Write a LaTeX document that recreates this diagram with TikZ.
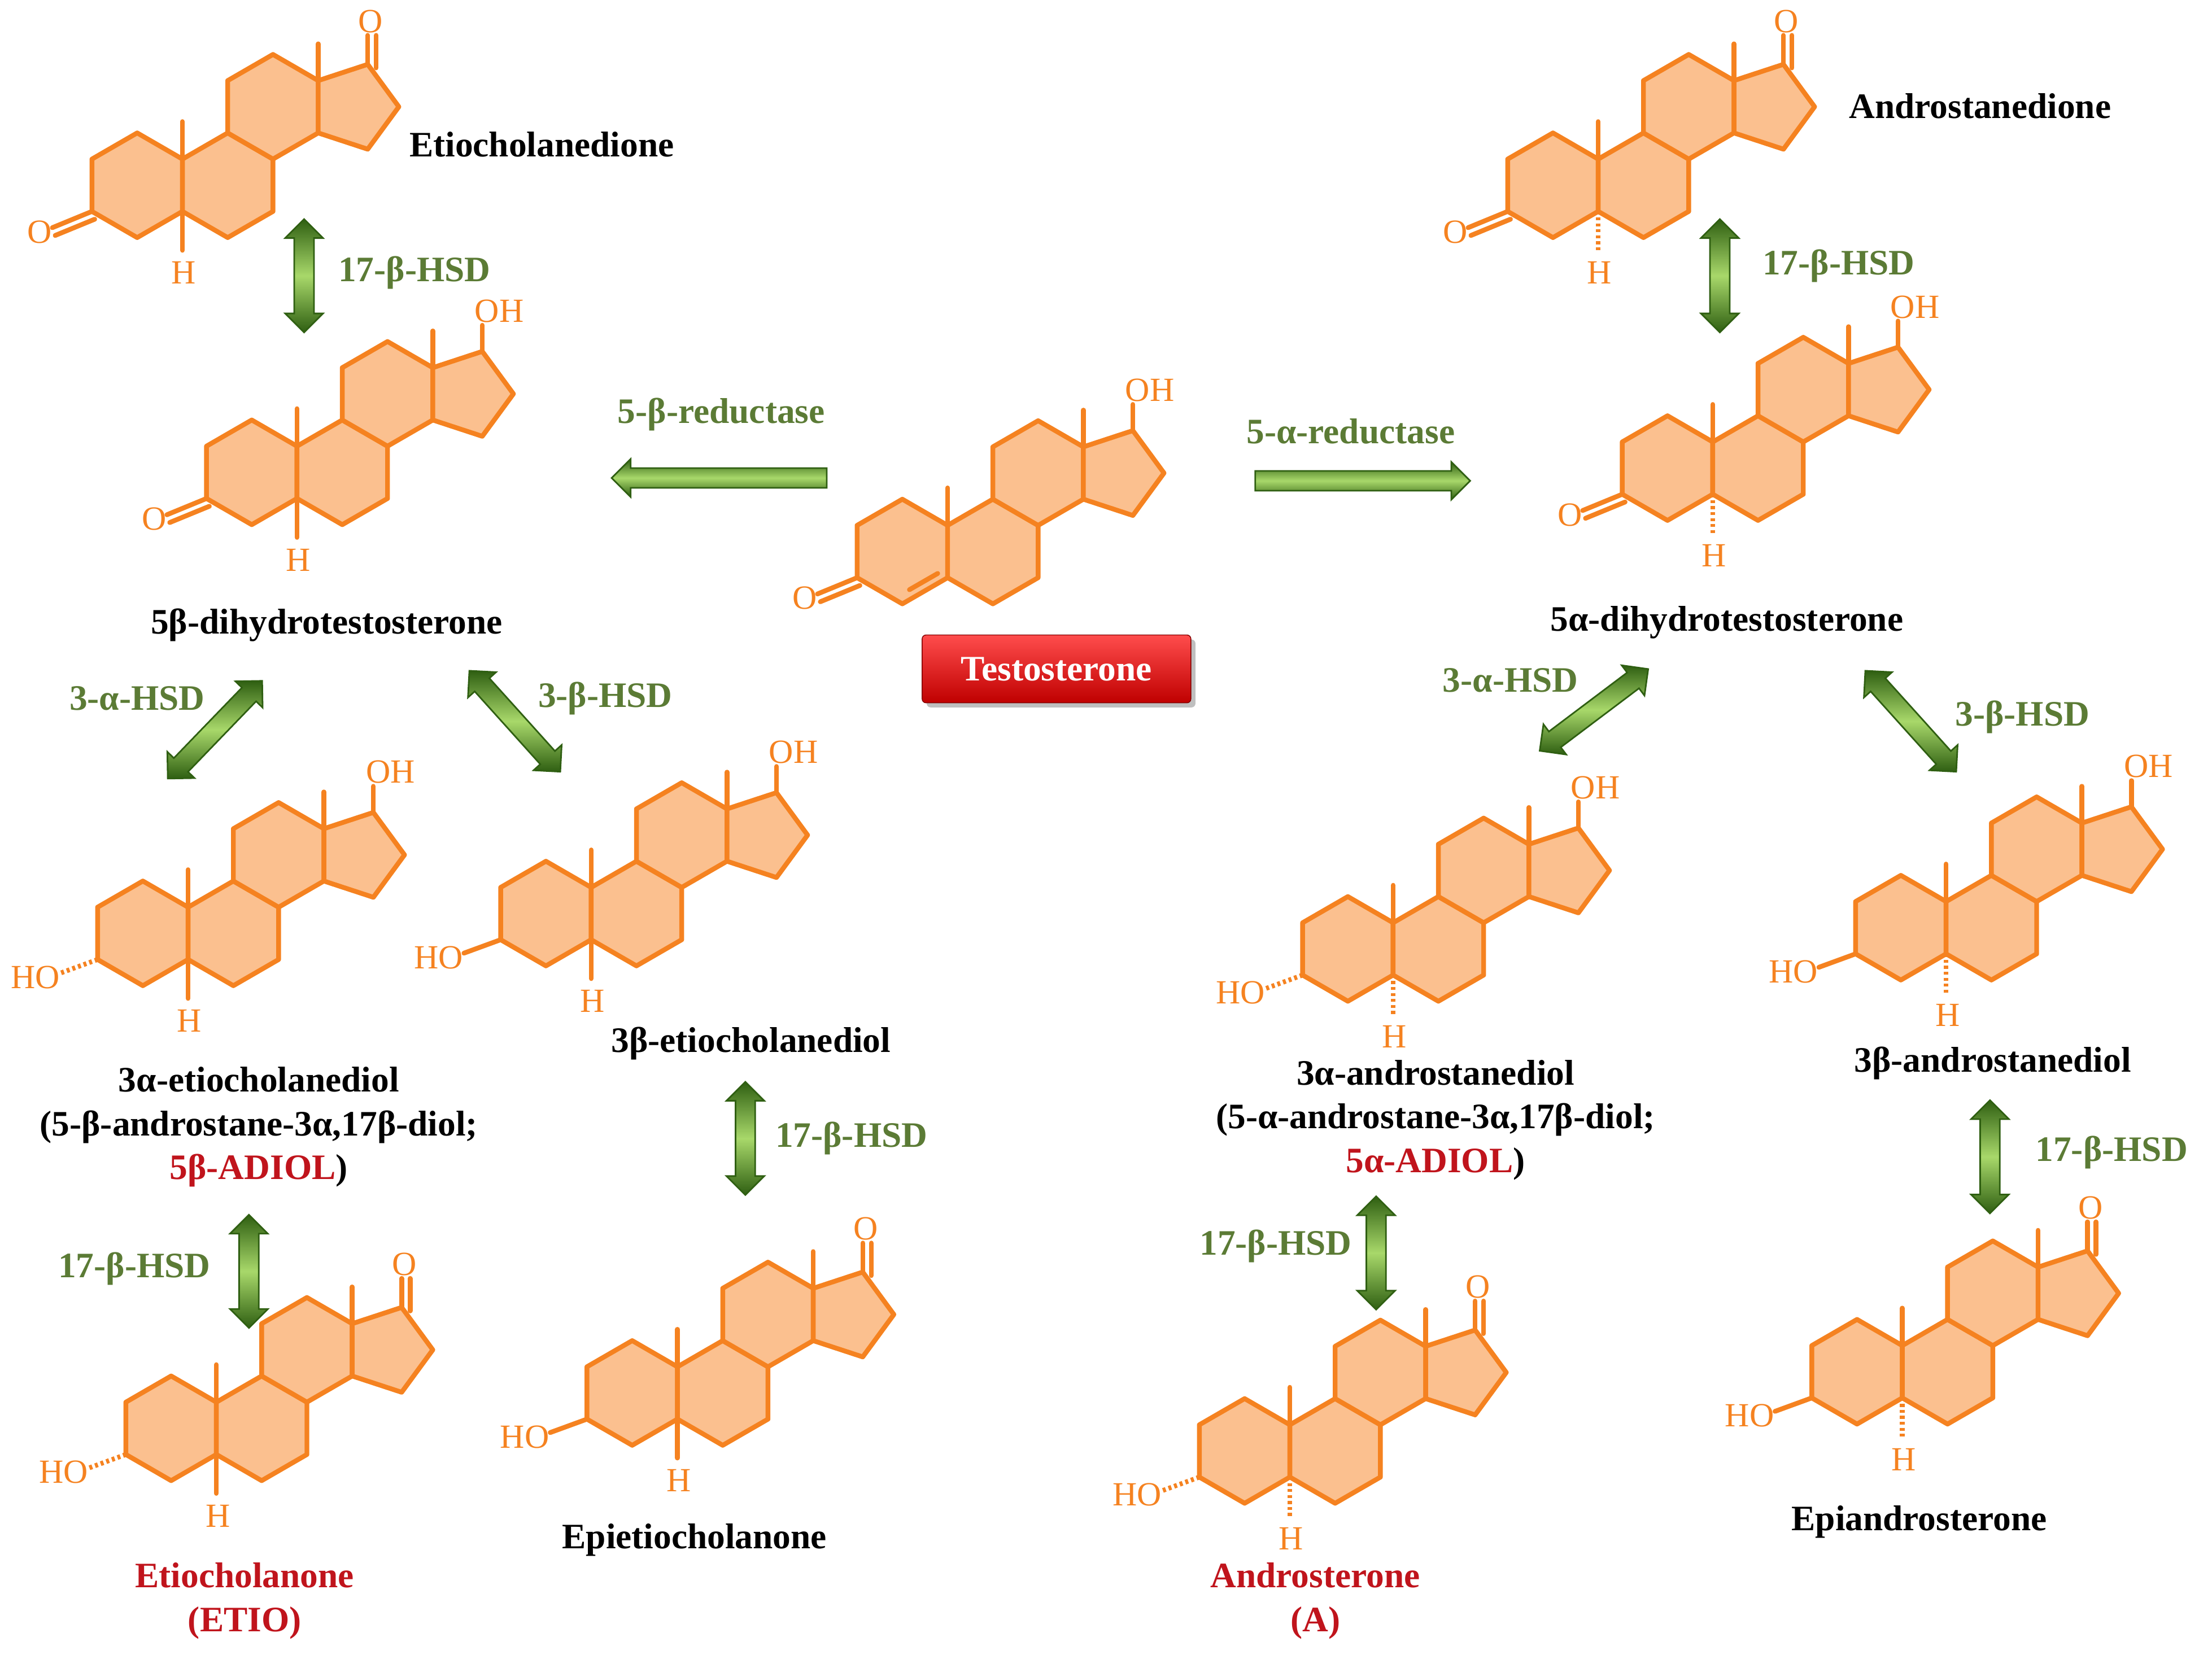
\documentclass[tikz,border=0pt]{standalone}
\usepackage{fontspec}
\setmainfont{Liberation Serif}
\usetikzlibrary{shapes.arrows,shadows}

\definecolor{ster}{HTML}{F58220}
\definecolor{sterfill}{HTML}{FBC08F}
\definecolor{enzgreen}{HTML}{5B7B35}
\definecolor{arrdark}{HTML}{2F5F12}
\definecolor{arrlight}{HTML}{A8D86A}
\definecolor{namered}{HTML}{C0141C}

\tikzset{
  ring/.style={draw=ster,fill=sterfill,line width=2.4pt,line join=round},
  bond/.style={draw=ster,line width=2.4pt,line cap=round},
  hbond/.style={draw=ster,line width=2.4pt,dash pattern=on 1.5pt off 1.5pt},
  atom/.style={text=ster,font=\fontsize{17}{17}\selectfont,inner sep=0pt},
  molname/.style={font=\bfseries\fontsize{18}{22}\selectfont,align=center},
  enz/.style={text=enzgreen,font=\bfseries\fontsize{18}{22}\selectfont},
  dbl/.style={double arrow,draw=arrdark,thick,inner sep=0.16cm,
    double arrow head extend=0.16cm,top color=arrdark,bottom color=arrdark,middle color=arrlight},
  sgl/.style={single arrow,draw=arrdark,thick,inner sep=0.16cm,
    single arrow head extend=0.16cm,top color=arrdark,bottom color=arrdark,middle color=arrlight},
  pics/steroid/.style={code={
    \draw[ring] (0,-37)--(32,-18.5)--(32,18.5)--(0,37)--(-32,18.5)--(-32,-18.5)--cycle;
    \draw[ring] (64,-37)--(96,-18.5)--(96,18.5)--(64,37)--(32,18.5)--(32,-18.5)--cycle;
    \draw[ring] (96,-92.5)--(128,-74)--(128,-37)--(96,-18.5)--(64,-37)--(64,-74)--cycle;
    \draw[ring] (128,-74)--(163,-85.5)--(185,-55.5)--(163,-25.5)--(128,-37)--cycle;
    \draw[bond] (32,-18.5)--(32,-45) (128,-74)--(128,-100);
  }},
  pics/oxo3/.style={code={
    \draw[bond] (-32,18.5)--(-60,30) (-30,24)--(-58,35.5);
    \node[atom] at (-69,33) {O};
  }},
  pics/hoa3/.style={code={
    \draw[hbond] (-32,18.5)--(-58,28);
    \node[atom] at (-76,31) {HO};
  }},
  pics/hob3/.style={code={
    \draw[bond] (-32,18.5)--(-58,28);
    \node[atom] at (-76,31) {HO};
  }},
  pics/ha5/.style={code={
    \draw[hbond] (32,18.5)--(32,46);
    \node[atom] at (33,62) {H};
  }},
  pics/hb5/.style={code={
    \draw[bond] (32,18.5)--(32,46);
    \node[atom] at (33,62) {H};
  }},
  pics/oh17/.style={code={
    \draw[bond] (163,-85.5)--(163,-104);
    \node[atom] at (175,-114) {OH};
  }},
  pics/oxo17/.style={code={
    \draw[bond] (163,-85.5)--(163,-106) (169,-83)--(169,-106);
    \node[atom] at (165,-116) {O};
  }},
  pics/ene4/.style={code={
    \draw[bond] (5,27)--(25,15.5);
  }}
}

\begin{document}
\begin{tikzpicture}[x=0.025cm,y=-0.025cm]
  \useasboundingbox (0,0) rectangle (1564,1170);

  % molecules
  \path (97,131) coordinate (etd) pic{steroid} pic{oxo3} pic{hb5} pic{oxo17};
  \path (178,334) coordinate (bdht) pic{steroid} pic{oxo3} pic{hb5} pic{oh17};
  \path (638,390) coordinate (testo) pic{steroid} pic{oxo3} pic{ene4} pic{oh17};
  \path (1098,131) coordinate (ad) pic{steroid} pic{oxo3} pic{ha5} pic{oxo17};
  \path (1179,331) coordinate (adht) pic{steroid} pic{oxo3} pic{ha5} pic{oh17};
  \path (101,660) coordinate (aetio) pic{steroid} pic{hoa3} pic{hb5} pic{oh17};
  \path (386,646) coordinate (betio) pic{steroid} pic{hob3} pic{hb5} pic{oh17};
  \path (121,1010) coordinate (etio) pic{steroid} pic{hoa3} pic{hb5} pic{oxo17};
  \path (447,985) coordinate (epietio) pic{steroid} pic{hob3} pic{hb5} pic{oxo17};
  \path (953,671) coordinate (aandro) pic{steroid} pic{hoa3} pic{ha5} pic{oh17};
  \path (1344,656) coordinate (bandro) pic{steroid} pic{hob3} pic{ha5} pic{oh17};
  \path (880,1026) coordinate (andro) pic{steroid} pic{hoa3} pic{ha5} pic{oxo17};
  \path (1313,970) coordinate (epiandro) pic{steroid} pic{hob3} pic{ha5} pic{oxo17};

  % names
  \node[molname] (n-etd) at (383,102) {Etiocholanedione};
  \node[molname] (n-bdht) at (231,442) {5β-dihydrotestosterone};
  \node[molname] (n-ad) at (1400,75) {Androstanedione};
  \node[molname] (n-adht) at (1221,440) {5α-dihydrotestosterone};
  \node[molname] (n-aetio) at (183,797) {3α-etiocholanediol\\(5-β-androstane-3α,17β-diol;\\\textcolor{namered}{5β-ADIOL})};
  \node[molname] (n-betio) at (531,738) {3β-etiocholanediol};
  \node[molname,text=namered] (n-etio) at (173,1132) {Etiocholanone\\(ETIO)};
  \node[molname] (n-epietio) at (491,1089) {Epietiocholanone};
  \node[molname] (n-aandro) at (1015,792) {3α-androstanediol\\(5-α-androstane-3α,17β-diol;\\\textcolor{namered}{5α-ADIOL})};
  \node[molname] (n-bandro) at (1409,752) {3β-androstanediol};
  \node[molname,text=namered] (n-andro) at (930,1132) {Androsterone\\(A)};
  \node[molname] (n-epiandro) at (1357,1076) {Epiandrosterone};
  \node[molname,text=white,draw=red!50!black,top color=red!70,bottom color=red!75!black,
    rounded corners=2pt,minimum width=4.75cm,minimum height=1.2cm,drop shadow] (n-testo) at (747,473) {Testosterone};

  % enzymes
  \node[dbl,rotate=90,minimum height=2cm] (a1) at (215,195) {};
  \node[enz] at (293,193) {17-β-HSD};
  \node[sgl,rotate=180,minimum height=3.8cm] (a2) at (512,338) {};
  \node[enz] at (510,293) {5-β-reductase};
  \node[sgl,minimum height=3.8cm] (a3) at (960,340) {};
  \node[enz] at (955,305) {5-α-reductase};
  \node[dbl,rotate=90,minimum height=2cm] (a4) at (1216,195) {};
  \node[enz] at (1300,188) {17-β-HSD};
  \node[dbl,rotate=46,minimum height=2.4cm] (a5) at (152,516) {};
  \node[enz] at (97,494) {3-α-HSD};
  \node[dbl,rotate=-48,minimum height=2.4cm] (a6) at (364,510) {};
  \node[enz] at (428,494) {3-β-HSD};
  \node[dbl,rotate=37,minimum height=2.4cm] (a7) at (1127,502) {};
  \node[enz] at (1068,481) {3-α-HSD};
  \node[dbl,rotate=-48,minimum height=2.4cm] (a8) at (1351,510) {};
  \node[enz] at (1430,507) {3-β-HSD};
  \node[dbl,rotate=90,minimum height=2cm] (a9) at (527,805) {};
  \node[enz] at (602,805) {17-β-HSD};
  \node[dbl,rotate=90,minimum height=2cm] (a10) at (176,899) {};
  \node[enz] at (95,897) {17-β-HSD};
  \node[dbl,rotate=90,minimum height=2cm] (a11) at (973,886) {};
  \node[enz] at (902,881) {17-β-HSD};
  \node[dbl,rotate=90,minimum height=2cm] (a12) at (1407,818) {};
  \node[enz] at (1493,815) {17-β-HSD};

\end{tikzpicture}
\end{document}
